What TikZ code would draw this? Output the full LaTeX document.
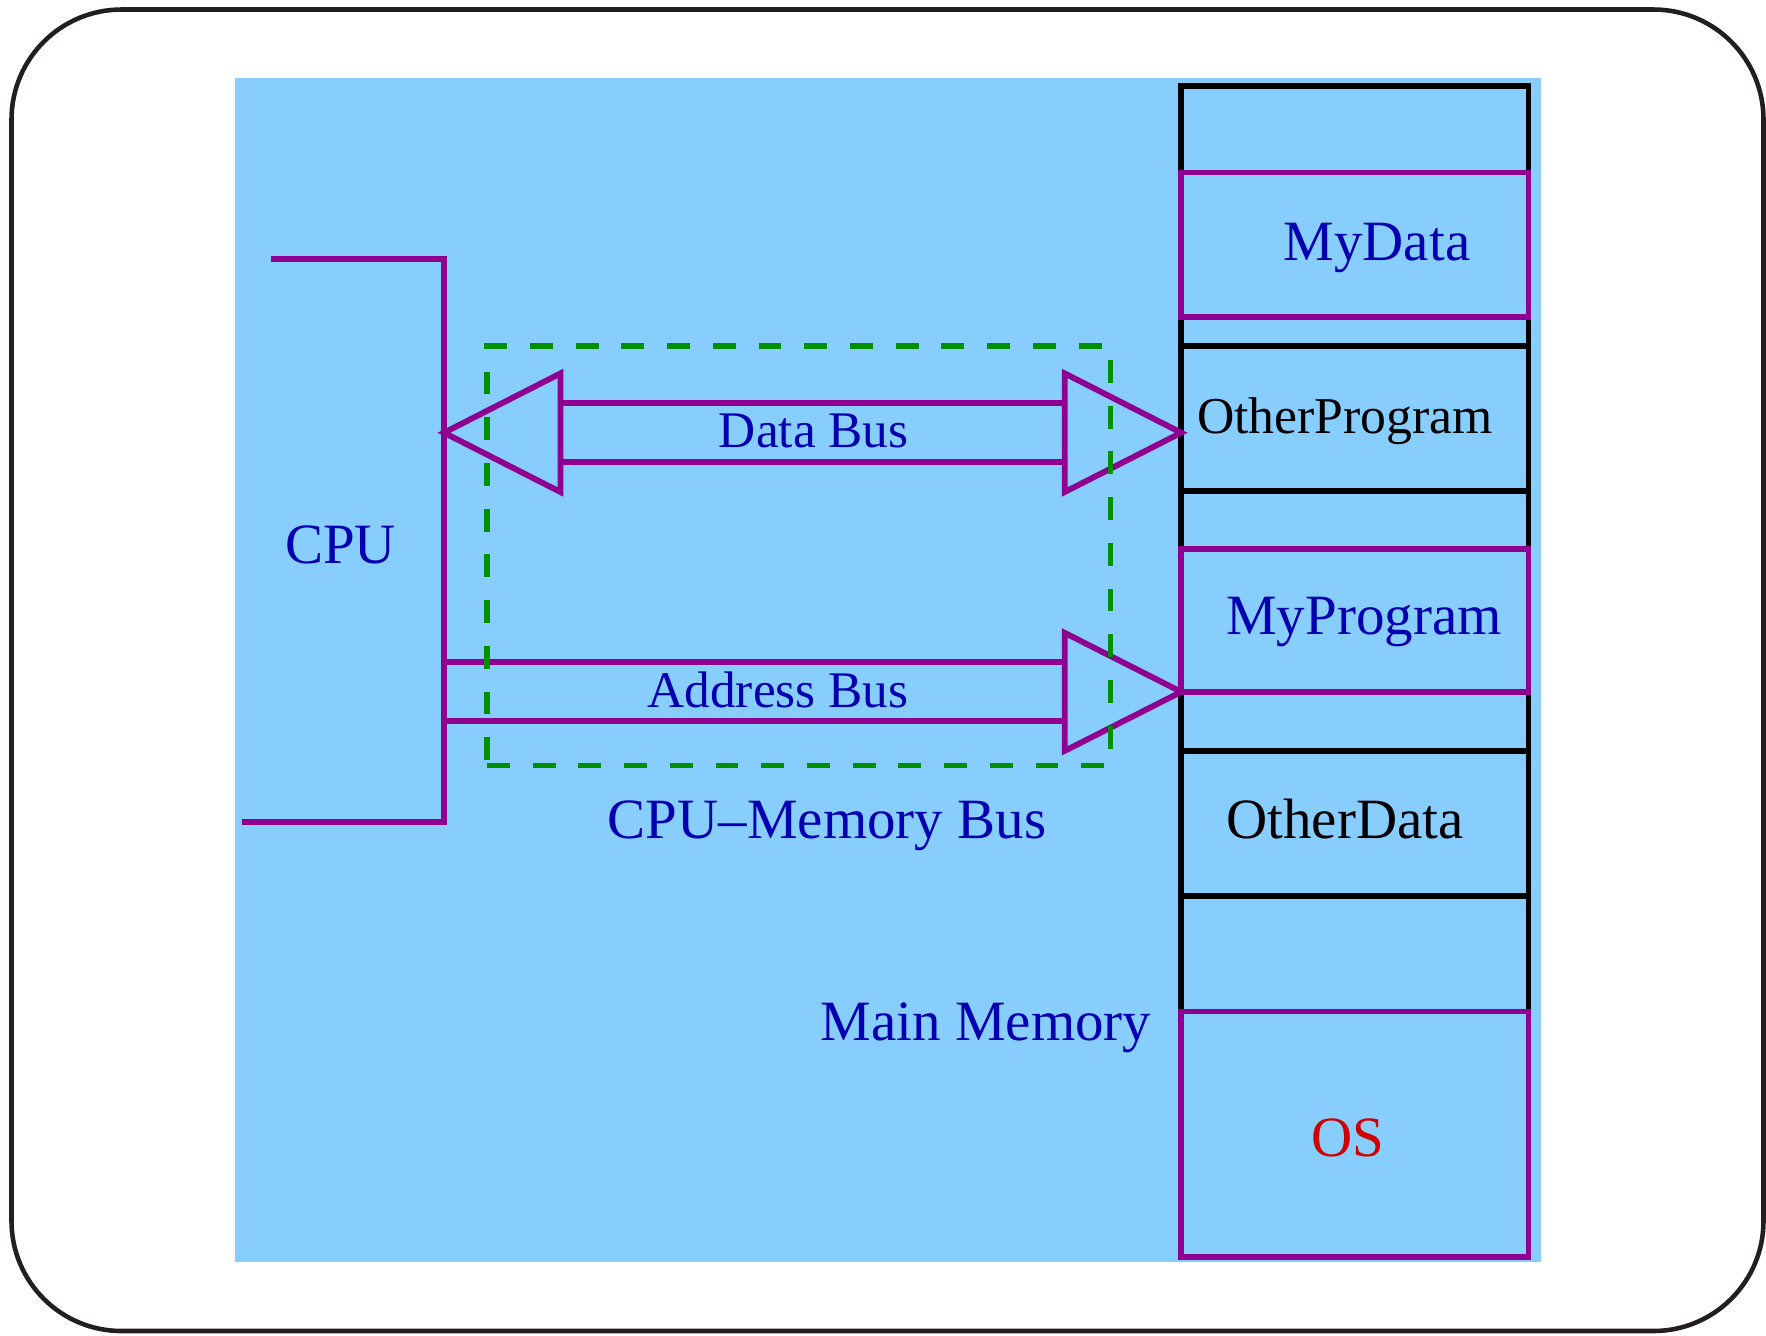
\documentclass[tikz,border=0pt]{standalone}
\usepackage{fontspec}
\setmainfont{Liberation Serif}
\usepackage{xcolor}
\usepackage{tikz}
\usetikzlibrary{positioning}
\definecolor{panelblue}{HTML}{87CEFF}
\definecolor{segpurple}{HTML}{900090}
\definecolor{labelblue}{HTML}{0000B0}
\definecolor{osred}{HTML}{D00000}
\definecolor{groupgreen}{HTML}{009000}
\definecolor{framegray}{HTML}{231F20}

\begin{document}
\begin{tikzpicture}[x=0.01cm, y=-0.01cm,
    cell/.style={rectangle, draw=black, line width=1.6pt, minimum width=3.47cm, outer sep=0pt, inner sep=0pt},
    ownseg/.style={cell, draw=segpurple},
    lbl/.style={font=\fontsize{16.2}{19}\selectfont, text=labelblue, inner sep=0pt, anchor=base},
    memlbl/.style={lbl, text=black},
    buslbl/.style={lbl, font=\fontsize{14.6}{17}\selectfont},
    bus/.style={draw=segpurple, line width=1.65pt, line join=miter},
    grp/.style={draw=groupgreen, line width=1.5pt, dash pattern=on 6.5pt off 6.5pt, outer sep=0pt, inner sep=0pt}]
    \useasboundingbox (0,0) rectangle (1766,1335);
    \draw[framegray, line width=1.3pt, rounded corners=1.1cm] (11.5,9.5) rectangle (1763.5,1331);
    \fill[panelblue] (234.5,78) rectangle (1541,1261.5);

    % memory column, top to bottom
    \node[cell, minimum height=0.868cm, anchor=north] (free1) at (1354.8,85.7) {};
    \node[ownseg, minimum height=1.443cm, below=0pt of free1] (mydata) {};
    \node[cell, minimum height=0.292cm, below=0pt of mydata] (free2) {};
    \node[cell, minimum height=1.445cm, below=0pt of free2] (otherprog) {};
    \node[cell, minimum height=0.58cm, below=0pt of otherprog] (free3) {};
    \node[ownseg, minimum height=1.43cm, below=0pt of free3] (myprog) {};
    \node[cell, minimum height=0.59cm, below=0pt of myprog] (free4) {};
    \node[cell, minimum height=1.45cm, below=0pt of free4] (otherdata) {};
    \node[cell, minimum height=1.155cm, below=0pt of otherdata] (free5) {};
    \node[ownseg, minimum height=2.455cm, below=0pt of free5] (os) {};
    \foreach \seg in {mydata,myprog,os}
      \draw[segpurple, line width=1.6pt] (\seg.north west) rectangle (\seg.south east);

    \node[lbl] (mydatatxt) at (1377,260) {MyData};
    \node[memlbl, font=\fontsize{14.7}{17}\selectfont] (otherprogtxt) at (1345,433) {OtherProgram};
    \node[lbl] (myprogtxt) at (1364,634) {MyProgram};
    \node[memlbl] (otherdatatxt) at (1345,838) {OtherData};
    \node[lbl, text=osred] (ostxt) at (1347.5,1156) {OS};
    \node[lbl] (memtxt) at (986,1040) {Main Memory};

    % CPU
    \coordinate (cputop) at (444,259);
    \coordinate (cpubot) at (444,822);
    \draw[bus] (270.5,259) -- (cputop) -- (cpubot) -- (242,822);
    \node[lbl] (cpu) at (340.5,563) {CPU};

    % data bus
    \coordinate (dbL) at (444,432.7);
    \coordinate (dbR) at (otherprog.west |- dbL);
    \draw[bus] (dbL) -- ++(116.5,-59.3) -- ++(0,118.6) -- cycle;
    \draw[bus] (dbR) -- ++(-116.5,-59.3) -- ++(0,118.6) -- cycle;
    \draw[bus] ([shift={(116.5,-29.5)}]dbL) -- ([shift={(-116.5,-29.5)}]dbR)
      ([shift={(116.5,29.5)}]dbL) -- ([shift={(-116.5,29.5)}]dbR);
    \node[buslbl] (dbtxt) at (813.8,447) {Data Bus};

    % address bus
    \coordinate (abR) at (myprog.south west);
    \coordinate (abL) at (cputop |- abR);
    \draw[bus] (abR) -- ++(-116.5,-59) -- ++(0,118) -- cycle;
    \draw[bus] ([shift={(0,-29.5)}]abL) -- ([shift={(-116.5,-29.5)}]abR)
      ([shift={(0,29.5)}]abL) -- ([shift={(-116.5,29.5)}]abR);
    \node[buslbl] (abtxt) at (778,707) {Address Bus};

    \node[grp, minimum width=6.23cm, minimum height=4.19cm, anchor=north west] (busgroup) at (487,346) {};
    \node[lbl] (busgrouptxt) at (827,838) {CPU--Memory Bus};
\end{tikzpicture}
\end{document}
